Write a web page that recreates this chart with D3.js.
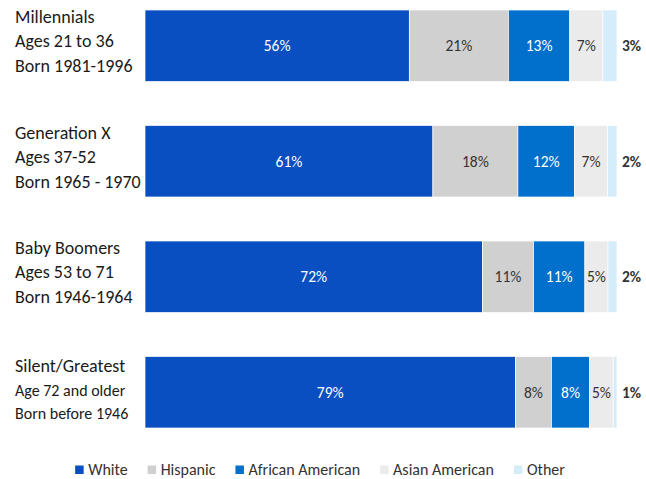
<!DOCTYPE html>
<html>
<head>
<meta charset="utf-8">
<script src="https://cdn.jsdelivr.net/npm/d3@7"></script>
<style>
  body { margin: 0; background: #fff; }
  text { font-family: Carlito, Calibri, Lato, sans-serif; }
</style>
</head>
<body>
<div id="chart"></div>
<script>
var width = 646,
    height = 479;

// the data
var groups = ["Millennials", "Generation X", "Baby Boomers", "Silent/Greatest"];
var groupLine2 = ["Ages 21 to 36", "Ages 37-52", "Ages 53 to 71", "Age 72 and older"];
var groupLine3 = ["Born 1981-1996", "Born 1965 - 1970", "Born 1946-1964", "Born before 1946"];
var series = ["White", "Hispanic", "African American", "Asian American", "Other"];
var white = [56, 61, 71.5, 78.5];
var hispanic = [21, 18, 10.8, 7.6];
var african = [13, 12, 10.9, 8.1];
var asian = [7, 7, 4.9, 5.0];
var other = [3, 2, 1.9, 0.8];

var colors = ["#0a4fc2", "#d0d0d0", "#0070cc", "#ebebeb", "#d5edfa"];
var labelColors = ["#ffffff", "#333333", "#ffffff", "#333333", "#333333"];

var rows = groups.map(function(g, i) {
  return { group: g, White: white[i], Hispanic: hispanic[i], "African American": african[i],
           "Asian American": asian[i], Other: other[i] };
});

var svg = d3.select("#chart")
      .append("svg")
      .attr("width", width)
      .attr("height", height);

var x = d3.scaleLinear().domain([0, 100]).range([145, 617]);
var y = d3.scaleBand().domain(groups).range([10, 428]).paddingInner(0.381).paddingOuter(0);

var stack = d3.stack().keys(series)(rows);

var layer = svg.selectAll(".layer")
    .data(stack)
    .enter().append("g")
    .attr("class", "layer")
    .attr("fill", function(d, i) { return colors[i]; });

layer.selectAll("rect")
    .data(function(d) { return d; })
    .enter().append("rect")
    .attr("x", function(d) { return x(d[0]); })
    .attr("y", function(d) { return y(d.data.group); })
    .attr("width", function(d) { return x(d[1]) - x(d[0]); })
    .attr("height", y.bandwidth())
    .attr("stroke", "#ffffff")
    .attr("stroke-width", 0.7);

// value labels
layer.each(function(s, si) {
  d3.select(this).selectAll("text")
    .data(s)
    .enter().append("text")
    .attr("x", function(d) {
      if (s.key === "Other") return x(d[1]) + 5;
      return (x(d[0]) + x(d[1])) / 2;
    })
    .attr("y", function(d) { return y(d.data.group) + y.bandwidth() / 2 + 5.5; })
    .attr("text-anchor", s.key === "Other" ? "start" : "middle")
    .style("font-size", "15.5px")
    .style("font-weight", s.key === "Other" ? "bold" : "normal")
    .style("fill", labelColors[si])
    .text(function(d) { return Math.round(d[1] - d[0]) + "%"; });
});

// group labels on the left
groups.forEach(function(g, i) {
  var cy = y(g) + y.bandwidth() / 2;
  var last = (i === 3);
  var small = last ? "16px" : "18px";
  var offs = last ? [-20, 4, 27] : [-22.5, 1.5, 26.5];
  svg.append("text").attr("x", 15).attr("y", cy + offs[0])
    .style("font-size", "18px").style("fill", "#1a1a1a").text(g);
  svg.append("text").attr("x", 15).attr("y", cy + offs[1])
    .style("font-size", small).style("fill", "#1a1a1a").text(groupLine2[i]);
  svg.append("text").attr("x", 15).attr("y", cy + offs[2])
    .style("font-size", small).style("fill", "#1a1a1a").text(groupLine3[i]);
});

// legend
var legend = svg.append("g").attr("class", "legend");
var lx = 0;
series.forEach(function(s, i) {
  var item = legend.append("g").attr("transform", "translate(" + lx + ",0)");
  item.append("rect").attr("x", 0).attr("y", -9.5).attr("width", 8.5).attr("height", 8.5)
    .attr("fill", colors[i]);
  var t = item.append("text").attr("x", 13).attr("y", 0)
    .style("font-size", "16px").style("fill", "#333").text(s);
  lx += 13 + t.node().getComputedTextLength() + 20;
});
var legendW = lx - 20;
legend.attr("transform", "translate(" + (320 - legendW / 2) + ",475)");
</script>
</body>
</html>
